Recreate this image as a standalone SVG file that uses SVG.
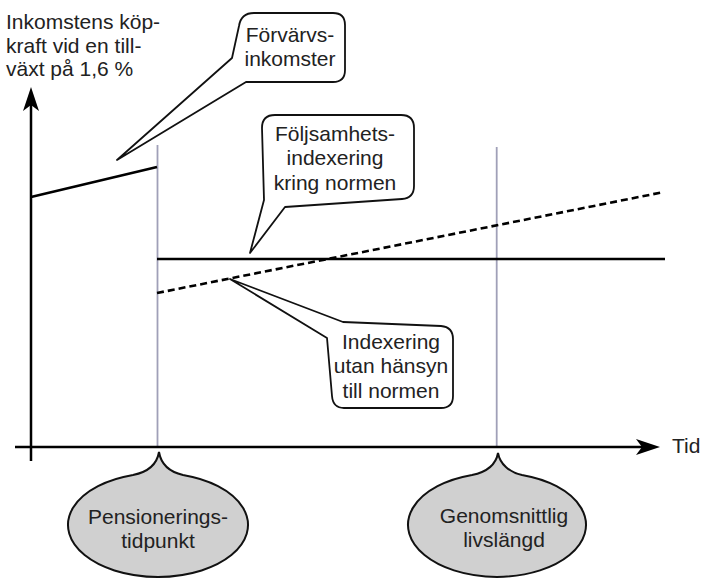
<svg xmlns="http://www.w3.org/2000/svg" width="707" height="578" viewBox="0 0 707 578">
  <style>
    .txt { font-family: "Liberation Sans", Arial, sans-serif; font-size: 21px; fill: #222; }
    .mid { text-anchor: middle; }
    .bubble { fill: #fff; stroke: #111; stroke-width: 1.8; stroke-linejoin: round; }
    .drop { fill: #d0d0d0; stroke: #111; stroke-width: 2; }
    .axis { stroke: #000; stroke-width: 2.5; fill: none; }
    .curve { stroke: #000; stroke-width: 2.6; fill: none; }
    .grid { stroke: #a0a0b8; stroke-width: 1.8; fill: none; }
    .dash { stroke: #000; stroke-width: 2.6; fill: none; stroke-dasharray: 7 4; }
  </style>
  <defs>
    <marker id="arrow" viewBox="0 0 24 16" refX="14" refY="8" markerWidth="24" markerHeight="16" markerUnits="userSpaceOnUse" orient="auto">
      <path d="M0,0 L24,8 L0,16 L6,8 Z" fill="#000"/>
    </marker>
  </defs>
  <rect width="707" height="578" fill="#fff"/>

  <g id="connectors">
    <line class="grid" x1="157.5" y1="145" x2="157.5" y2="447"/>
    <line class="grid" x1="496.7" y1="147" x2="496.7" y2="447"/>
    <line class="axis" x1="31" y1="461" x2="31" y2="97" marker-end="url(#arrow)"/>
    <line class="axis" x1="15" y1="447" x2="650" y2="447" marker-end="url(#arrow)"/>
    <line class="curve" x1="31" y1="197" x2="157" y2="167"/>
    <line class="curve" x1="157" y1="259" x2="665" y2="259" stroke-width="3"/>
    <line class="dash" x1="157" y1="293" x2="664" y2="192"/>
  </g>

  <g id="y-label">
    <text class="txt" x="6" y="29">Inkomstens köp-</text>
    <text class="txt" x="6" y="53">kraft vid en till-</text>
    <text class="txt" x="6" y="76">växt på 1,6 %</text>
  </g>

  <g id="x-label">
    <text class="txt" x="672" y="453">Tid</text>
  </g>

  <g id="callout-forvarvsinkomster">
    <path class="bubble" d="M 232 58 L 117 160 L 246 82 L 333 82 Q 345 82 345 70 L 345 25 Q 345 13 333 13 L 254 13 Q 241 13 239 26 Z"/>
    <text class="txt mid" x="290" y="42">Förvärvs-</text>
    <text class="txt mid" x="290" y="66">inkomster</text>
  </g>

  <g id="callout-foljsamhetsindexering">
    <path class="bubble" d="M 264 200 L 250 253 L 285 207 L 402 199 Q 414 198 414 186 L 414 128 Q 414 115 401 115 L 275 115 Q 262 115 262 128 Z"/>
    <text class="txt mid" x="335" y="141">Följsamhets-</text>
    <text class="txt mid" x="335" y="165">indexering</text>
    <text class="txt mid" x="335" y="190">kring normen</text>
  </g>

  <g id="callout-indexering-utan-hansyn">
    <path class="bubble" d="M 230 279 L 343 322 L 441 326 Q 453 327 453 339 L 453 396 Q 453 408 441 408 L 344 408 Q 333 408 332 396 L 327 338 Z"/>
    <text class="txt mid" x="391" y="349">Indexering</text>
    <text class="txt mid" x="391" y="373">utan hänsyn</text>
    <text class="txt mid" x="391" y="398">till normen</text>
  </g>

  <g id="pensioneringstidpunkt">
    <path class="drop" d="M 133 475 C 148 472, 157 464, 159 452 C 161 464, 170 472, 183 475 A 90 52 0 1 1 133 475 Z"/>
    <text class="txt mid" x="158" y="524">Pensionerings-</text>
    <text class="txt mid" x="158" y="548">tidpunkt</text>
  </g>

  <g id="genomsnittlig-livslangd">
    <path class="drop" d="M 472 475 C 487 472, 496 464, 498 453 C 500 464, 509 472, 522 475 A 89 52 0 1 1 472 475 Z"/>
    <text class="txt mid" x="504" y="523">Genomsnittlig</text>
    <text class="txt mid" x="504" y="547">livslängd</text>
  </g>
</svg>
